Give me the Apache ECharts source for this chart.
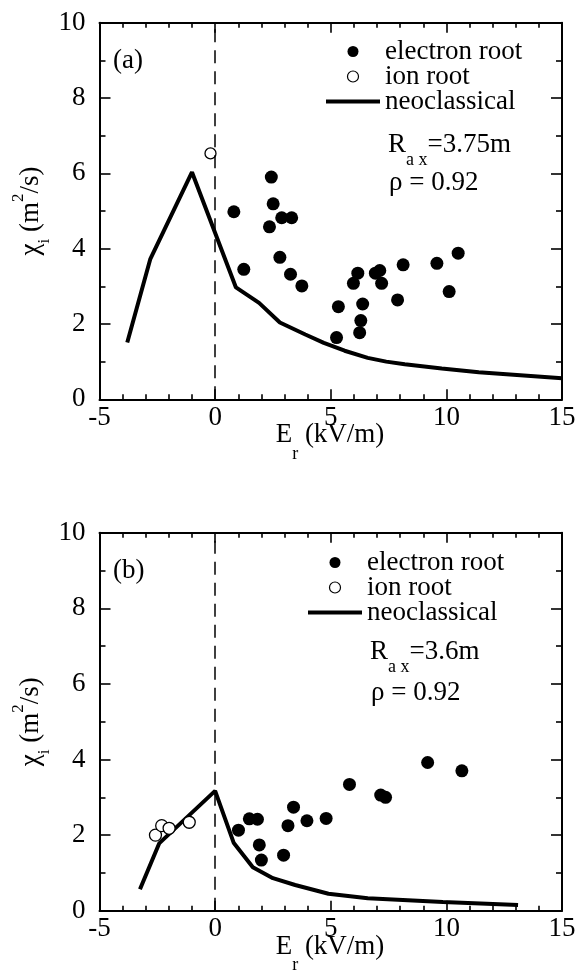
<!DOCTYPE html>
<html><head><meta charset="utf-8">
<script src="https://cdn.jsdelivr.net/npm/echarts@6/dist/echarts.min.js"></script>
<style>html,body{margin:0;padding:0;background:#fff}#c{width:579px;height:975px}</style>
</head><body><div id="c"></div>
<script>
// ---- data ----
const xTicks = [-5, 0, 5, 10, 15];
const yTicks = [0, 2, 4, 6, 8, 10];
const legendNames = ['electron root', 'ion root', 'neoclassical'];
const panelLabels = ['(a)', '(b)'];
const raxValues = ['3.75m', '3.6m'];
const rhoValues = ['0.92', '0.92'];

const electronA = [[0.81,4.98],[1.24,3.45],[2.35,4.58],[2.43,5.90],[2.51,5.19],[2.80,3.77],[2.88,4.82],[3.26,3.32],[3.31,4.82],[3.75,3.01],[5.25,1.64],[5.33,2.46],[5.98,3.08],[6.17,3.35],[6.25,1.77],[6.30,2.09],[6.38,2.53],[6.93,3.35],[7.12,3.42],[7.20,3.08],[7.89,2.64],[8.13,3.57],[9.59,3.61],[10.12,2.86],[10.51,3.88]];
const ionA = [[-0.20,6.53]];
const neoA = [[-3.8,1.51],[-2.8,3.73],[-1.0,6.03],[0.9,2.97],[1.9,2.56],[2.8,2.04],[3.9,1.72],[4.7,1.50],[5.6,1.29],[6.6,1.10],[7.4,1.00],[8.2,0.93],[9.8,0.82],[11.4,0.72],[15.0,0.56]];

const electronB = [[1.01,2.13],[1.48,2.43],[1.83,2.42],[1.91,1.74],[2.00,1.34],[2.96,1.47],[3.15,2.25],[3.39,2.74],[3.97,2.38],[4.80,2.44],[5.81,3.34],[7.16,3.06],[7.37,3.00],[9.19,3.92],[10.67,3.70]];
const ionB = [[-2.58,2.00],[-2.31,2.25],[-1.99,2.18],[-1.12,2.34]];
const neoB = [[-3.25,0.57],[-2.42,1.78],[0.0,3.17],[0.8,1.80],[1.63,1.15],[2.5,0.86],[3.46,0.68],[4.9,0.45],[6.6,0.33],[9.85,0.23],[13.1,0.15]];

// ---- chart ----
const FONT = '"Liberation Serif", "Times New Roman", serif';
const FS = 27;
const chart = echarts.init(document.getElementById('c'));

const gridBoxes = [
  {left: 99.5, right: 17, top: 22.7, height: 376.6},
  {left: 99.5, right: 17, top: 532.7, height: 378}
];
const TICK = {color: '#000', width: 1.6};

function xAx(gi, pos) {
  return {
    type: 'value', gridIndex: gi, position: pos, min: -5, max: 15, interval: 5,
    axisLine: {show: true, onZero: false, lineStyle: {color: '#000', width: 2}},
    axisTick: {show: true, inside: true, length: 10, lineStyle: TICK},
    minorTick: {show: true, splitNumber: 5, length: 5, lineStyle: TICK},
    splitLine: {show: false}, minorSplitLine: {show: false},
    axisLabel: {show: pos === 'bottom', color: '#000', fontFamily: FONT, fontSize: FS, margin: 5,
      formatter: v => xTicks.indexOf(v) >= 0 ? String(v) : ''}
  };
}
function yAx(gi, pos) {
  return {
    type: 'value', gridIndex: gi, position: pos, min: 0, max: 10, interval: 2,
    axisLine: {show: true, onZero: false, lineStyle: {color: '#000', width: 2}},
    axisTick: {show: true, inside: true, length: 11, lineStyle: TICK},
    minorTick: {show: true, splitNumber: 2, length: 6, lineStyle: TICK},
    splitLine: {show: false}, minorSplitLine: {show: false},
    axisLabel: {show: pos === 'left', color: '#000', fontFamily: FONT, fontSize: FS, margin: 14,
      formatter: v => yTicks.indexOf(v) >= 0 ? String(v) : ''}
  };
}

function panelSeries(gi, elec, ion, neo, ionSize) {
  const xi = gi * 2, yi = gi * 2;
  return [
    {name: legendNames[0], type: 'scatter', xAxisIndex: xi, yAxisIndex: yi, data: elec,
      symbol: 'circle', symbolSize: 13, itemStyle: {color: '#000', opacity: 1}, z: 3},
    {name: legendNames[1], type: 'scatter', xAxisIndex: xi, yAxisIndex: yi, data: ion,
      symbol: 'circle', symbolSize: ionSize, itemStyle: {color: '#fff', borderColor: '#000', borderWidth: 1.3, opacity: 1}, z: 4},
    {name: legendNames[2], type: 'line', xAxisIndex: xi, yAxisIndex: yi, data: neo,
      symbol: 'none', showSymbol: false, lineStyle: {color: '#000', width: 4}, itemStyle: {color: '#000'},
      z: 2,
      markLine: {silent: true, symbol: ['none', 'none'],
        label: {show: false}, lineStyle: {color: '#000', width: 1.5, type: [13, 8]},
        data: [{xAxis: 0}]}}
  ];
}

function legendFor(left, top) {
  return {
    orient: 'vertical', left: left, top: top, padding: 0, itemGap: -2,
    itemWidth: 54, itemHeight: 11, selectedMode: false,
    data: [
      {name: legendNames[0], itemStyle: {color: '#000', opacity: 1}},
      {name: legendNames[1], itemStyle: {color: '#fff', borderColor: '#000', borderWidth: 1.2, opacity: 1}},
      {name: legendNames[2], icon: 'path://M0,0L54,0L54,4L0,4Z', itemStyle: {color: '#000', opacity: 1}}
    ],
    textStyle: {fontFamily: FONT, fontSize: 27, color: '#000'}
  };
}

function richText(x, y, text, rich, align, extra) {
  return Object.assign({
    type: 'text', x: x, y: y,
    style: {text: text, rich: rich, fontFamily: FONT, fontSize: FS, fill: '#000',
      align: align || 'left', verticalAlign: 'middle'}
  }, extra || {});
}
const richBase = {
  m: {fontFamily: FONT, fontSize: FS, color: '#000'},
  s: {fontFamily: FONT, fontSize: 18, color: '#000', padding: [32, 0, 0, 0]},
  e: {fontFamily: FONT, fontSize: 18, color: '#000', padding: [38, 0, 0, 0]},
  i: {fontFamily: FONT, fontSize: 17, color: '#000', padding: [28, 0, 0, 0]},
  p: {fontFamily: FONT, fontSize: 17, color: '#000', padding: [0, 0, 24, 0]}
};

function panelGraphics(gi, top, axisY, xOff) {
  const cy = top + (axisY - top) / 2;
  return [
    {type: 'text', x: 113, y: top + 38, style: {text: panelLabels[gi], font: FS + 'px ' + FONT, fill: '#000', verticalAlign: 'middle'}},
    richText(388 + xOff, top + 119 + (gi === 0 ? 3 : 0), '{m|R}{s|a x}{m|=' + raxValues[gi] + '}', richBase, 'left'),
    richText(389 + xOff, top + 160, '{m|ρ = ' + rhoValues[gi] + '}', richBase, 'left'),
    richText(330, axisY + 36, '{m|E}{e|r}{m| (kV/m)}', richBase, 'center'),
    richText(31, cy, '{m|χ}{i|i}{m| (m}{p|2}{m|/s)}', richBase, 'center', {rotation: Math.PI / 2})
  ];
}

const option = {
  backgroundColor: '#fff',
  animation: false,
  grid: gridBoxes.map(g => Object.assign({outerBoundsMode: 'none', containLabel: false}, g)),
  xAxis: [xAx(0, 'bottom'), xAx(0, 'top'), xAx(1, 'bottom'), xAx(1, 'top')],
  yAxis: [yAx(0, 'left'), yAx(0, 'right'), yAx(1, 'left'), yAx(1, 'right')],
  legend: [legendFor(326, 38), legendFor(308, 549)],
  series: [].concat(
    panelSeries(0, electronA, ionA, neoA, 11),
    panelSeries(1, electronB, ionB, neoB, 12)
  ),
  graphic: [].concat(
    panelGraphics(0, 22.7, 399.3, 0),
    panelGraphics(1, 532.7, 910.7, -18)
  )
};
chart.setOption(option);
</script>
</body></html>
